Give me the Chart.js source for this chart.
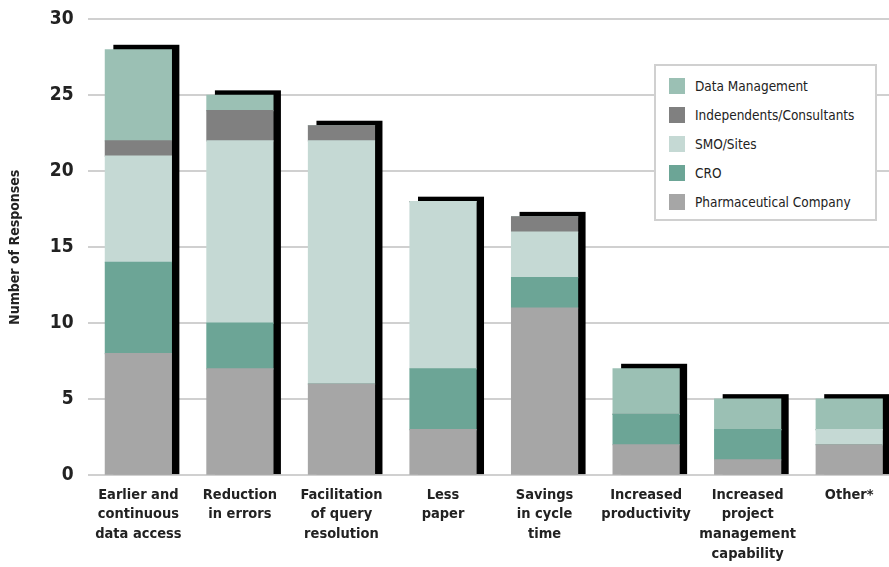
<!DOCTYPE html>
<html>
<head>
<meta charset="utf-8">
<script src="https://cdn.jsdelivr.net/npm/chart.js@4.4.0/dist/chart.umd.min.js"></script>
<style>
  html, body { margin: 0; padding: 0; background: #fff; overflow: hidden; }
  #wrap { position: relative; width: 900px; height: 573px; margin-top: -6px; }
  #legend {
    position: absolute; left: 654px; top: 70px; width: 219px;
    border: 2px solid #d0d0d0; background: #fff; padding: 5px 0 3px 0;
    font-family: "Liberation Sans Narrow", "DejaVu Sans Condensed", sans-serif;
    font-size: 13.5px; color: #222;
  }
  #legend div { display: flex; align-items: center; height: 29px; padding-left: 13px; }
  #legend span.sw { width: 16px; height: 16px; margin-right: 10px; display: inline-block; }
</style>
</head>
<body>
<div id="wrap">
  <canvas id="grafico" width="900" height="573"></canvas>
  <div id="legend"></div>
</div>
<script>
const categorias = [
  ["Earlier and", "continuous", "data access"],
  ["Reduction", "in errors"],
  ["Facilitation", "of query", "resolution"],
  ["Less", "paper"],
  ["Savings", "in cycle", "time"],
  ["Increased", "productivity"],
  ["Increased", "project", "management", "capability"],
  ["Other*"]
];
const pharma = [8, 7, 6, 3, 11, 2, 1, 2];
const cro = [6, 3, 0, 4, 2, 2, 2, 0];
const smo = [7, 12, 16, 11, 3, 0, 0, 1];
const independentes = [1, 2, 1, 0, 1, 0, 0, 0];
const dataMgmt = [6, 1, 0, 0, 0, 3, 2, 2];
const yTicks = [0, 5, 10, 15, 20, 25, 30];

const fonte = '"Liberation Sans Narrow", "DejaVu Sans Condensed", sans-serif';

const series = [
  { label: "Pharmaceutical Company", data: pharma, backgroundColor: "#a6a6a6" },
  { label: "CRO", data: cro, backgroundColor: "#6ca596" },
  { label: "SMO/Sites", data: smo, backgroundColor: "#c5d9d4" },
  { label: "Independents/Consultants", data: independentes, backgroundColor: "#808080" },
  { label: "Data Management", data: dataMgmt, backgroundColor: "#9bc0b4" }
];

// black offset shadow behind each stacked bar
const sombra = {
  id: "sombra",
  beforeDatasetsDraw(chart) {
    const ctx = chart.ctx;
    const base = chart.getDatasetMeta(0);
    ctx.save();
    ctx.fillStyle = "#000";
    base.data.forEach((el, i) => {
      let topo = el.y;
      chart.data.datasets.forEach((ds, d) => {
        const e = chart.getDatasetMeta(d).data[i];
        if (ds.data[i] > 0 && e.y < topo) topo = e.y;
      });
      const w = el.width;
      ctx.fillRect(el.x - w / 2 + 8, topo - 5, w, el.base - topo + 5);
    });
    ctx.restore();
  }
};

new Chart(document.getElementById("grafico"), {
  type: "bar",
  plugins: [sombra],
  data: {
    labels: categorias,
    datasets: series.map(s => ({
      ...s, barPercentage: 0.65, categoryPercentage: 1, borderWidth: 0, inflateAmount: 0.6
    }))
  },
  options: {
    responsive: false,
    animation: false,
    layout: { padding: { top: 0, right: 0, left: 7, bottom: -7 } },
    plugins: {
      legend: { display: false },
      tooltip: { enabled: false }
    },
    scales: {
      x: {
        stacked: true,
        grid: { display: false, drawTicks: false },
        border: { display: false },
        ticks: {
          color: "#222",
          font: { family: fonte, size: 14.5, weight: "bold", lineHeight: 1.36 },
          padding: 10,
          maxRotation: 0,
          autoSkip: false
        }
      },
      y: {
        stacked: true,
        min: 0,
        max: 30,
        afterBuildTicks(axis) { axis.ticks = yTicks.map(v => ({ value: v })); },
        grid: { color: "#d0d0d0", lineWidth: 2, drawTicks: false },
        border: { display: false },
        ticks: {
          color: "#222",
          font: { family: fonte, size: 19, weight: "bold" },
          padding: 14
        },
        title: {
          display: true,
          text: "Number of Responses",
          color: "#222",
          font: { family: fonte, size: 14, weight: "bold" },
          padding: { top: 0, bottom: 12 }
        }
      }
    }
  }
});

const legenda = document.getElementById("legend");
series.slice().reverse().forEach(s => {
  const linha = document.createElement("div");
  linha.innerHTML = '<span class="sw" style="background:' + s.backgroundColor + '"></span>' + s.label;
  legenda.appendChild(linha);
});
</script>
</body>
</html>
